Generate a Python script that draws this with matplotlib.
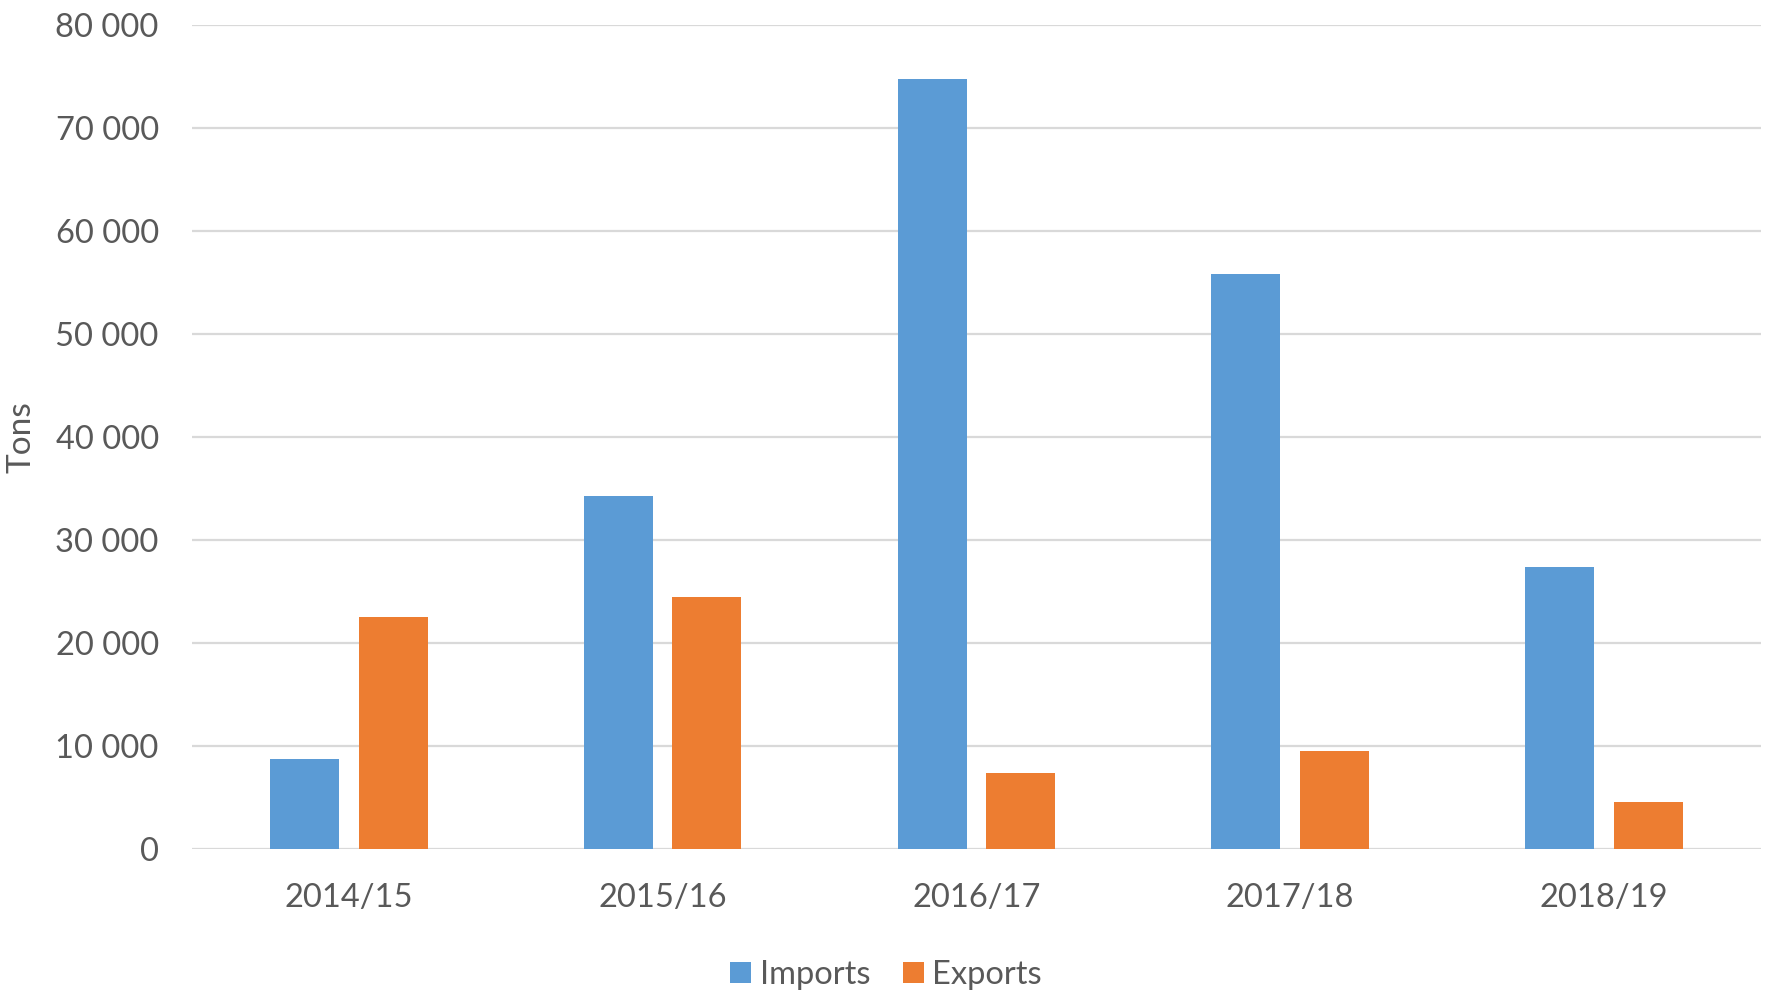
import matplotlib.pyplot as plt
import numpy as np
import matplotlib.ticker as tck

# data
seasons = ["2014/15", "2015/16", "2016/17", "2017/18", "2018/19"]
imports = [8700, 34300, 74800, 55800, 27400]
exports = [22500, 24400, 7400, 9500, 4500]
y_ticks = [0, 10000, 20000, 30000, 40000, 50000, 60000, 70000, 80000]

plt.rcParams["font.family"] = ["Lato", "DejaVu Sans"]
text_col = "#595959"

fig = plt.figure(figsize=(17.72, 10.02), dpi=100)
ax = fig.add_axes([0.1084, 0.153, 0.8853, 0.822])

x = np.arange(len(seasons))
w = 0.22
ax.bar(x - 0.141, imports, width=w, color="#5B9BD5", label="Imports", zorder=3)
ax.bar(x + 0.141, exports, width=w, color="#ED7D31", label="Exports", zorder=3)

ax.set_xlim(-0.5, len(seasons) - 0.5)
ax.set_ylim(0, 80000)
ax.set_yticks(y_ticks)
ax.yaxis.set_major_formatter(tck.FuncFormatter(lambda v, p: f"{int(v):,}".replace(",", " ")))
ax.set_xticks(x)
ax.set_xticklabels(seasons)

ax.grid(axis="y", color="#D9D9D9", linewidth=1.6, zorder=0)
for s in ax.spines.values():
    s.set_visible(False)
ax.tick_params(axis="y", length=0, pad=24, labelsize=23.5, labelcolor=text_col)
ax.tick_params(axis="x", length=0, pad=25, labelsize=23.5, labelcolor=text_col)

ax.set_ylabel("Tons", fontsize=24, color=text_col)
ax.yaxis.set_label_coords(-0.099, 0.5)

fig.legend(loc="center", bbox_to_anchor=(0.5, 0.027), ncol=2, frameon=False,
           fontsize=23.5, labelcolor=text_col, handlelength=0.65, handleheight=0.65,
           handletextpad=0.25, columnspacing=1.0)

fig.savefig("out.png", dpi=100)
